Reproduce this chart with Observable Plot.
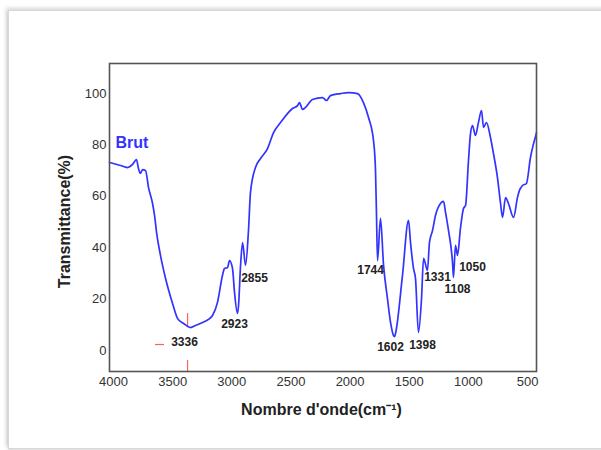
<!DOCTYPE html>
<html>
<head>
<meta charset="utf-8">
<script src="https://cdn.jsdelivr.net/npm/d3@7"></script>
<script src="https://cdn.jsdelivr.net/npm/@observablehq/plot@0.6"></script>
<style>
  html, body { margin: 0; padding: 0; background: #fff; }
  #wrap { position: relative; width: 601px; height: 450px; overflow: hidden; }
  #card { position: absolute; left: 8px; top: 10px; width: 620px; height: 437px;
          border: 1px solid #d8d8d8; box-shadow: -2px -2px 4px rgba(0,0,0,0.16), 0 2px 3px rgba(0,0,0,0.12); background: #fff; }
  #chart { position: absolute; left: 0; top: 0; }
</style>
</head>
<body>
<div id="wrap"><div id="card"></div><div id="chart"></div></div>
<script>
// FTIR spectrum "Brut" (wavenumber cm-1, transmittance %)
const wavenumber = [4034, 3941, 3882, 3839, 3806, 3789, 3772, 3755, 3729, 3704, 3670, 3653, 3636, 3603, 3560, 3501, 3459, 3408, 3349, 3307, 3248, 3197, 3163, 3121, 3079, 3062, 3036, 3019, 2994, 2977, 2952, 2943, 2926, 2909, 2884, 2859, 2842, 2800, 2757, 2698, 2647, 2588, 2487, 2444, 2428, 2402, 2377, 2318, 2233, 2199, 2166, 2081, 2013, 1937, 1887, 1844, 1802, 1785, 1777, 1768, 1743, 1717, 1684, 1658, 1633, 1624, 1616, 1557, 1506, 1489, 1464, 1447, 1422, 1396, 1379, 1371, 1346, 1329, 1303, 1278, 1236, 1210, 1193, 1168, 1134, 1126, 1109, 1092, 1067, 1041, 1024, 999, 982, 965, 940, 915, 889, 872, 847, 813, 788, 754, 728, 711, 686, 661, 618, 585, 568, 542, 509, 475, 449, 432, 424];
const transmittance = [73.2, 72.0, 71.2, 72.4, 74.3, 70.8, 68.9, 70.4, 70.0, 63.4, 57.2, 52.5, 45.9, 37.0, 28.0, 18.3, 12.5, 10.5, 8.9, 9.7, 10.9, 12.1, 13.6, 18.7, 29.2, 31.9, 32.3, 35.0, 31.9, 22.6, 14.4, 17.5, 33.1, 42.0, 33.1, 46.7, 61.5, 71.2, 74.7, 78.6, 84.8, 88.7, 94.2, 95.3, 96.5, 93.8, 94.6, 97.7, 98.4, 97.3, 99.2, 100.0, 100.4, 100.0, 96.5, 90.7, 81.7, 70.0, 53.3, 35.0, 51.4, 33.1, 20.2, 10.9, 5.8, 5.4, 6.6, 29.2, 50.6, 42.0, 31.9, 28.0, 7.0, 20.2, 35.8, 35.0, 31.1, 42.0, 46.7, 52.5, 57.2, 58.0, 53.7, 46.7, 34.2, 28.4, 40.9, 37.0, 47.5, 55.3, 56.4, 73.9, 84.4, 87.5, 83.7, 88.7, 93.4, 86.8, 88.7, 82.9, 76.7, 67.3, 57.2, 51.8, 59.5, 57.2, 51.8, 59.5, 62.3, 64.2, 65.0, 75.1, 80.5, 83.3, 84.8];

// peak annotations
const peakLabels = ["3336", "2923", "2855", "1744", "1602", "1398", "1331", "1108", "1050"];
const peakLabelX = [3400, 2977, 2808, 1827, 1658, 1388, 1261, 1092, 965];
const peakLabelY = [3.1, 10.1, 28.0, 31.1, 1.2, 1.9, 28.4, 23.7, 32.3];

// red marker of the 3336 band
const markerX = 3374;
const markerSegments = [[14.4, 8.9], [-3.9, -8.2]];
const dashFrom = 3645, dashTo = 3569, dashY = 2.3;

const xTicks = [4000, 3500, 3000, 2500, 2000, 1500, 1000, 500];
const yTicks = [0, 20, 40, 60, 80, 100];
const xDomain = [4034, 424];
const yDomain = [-8.2, 111.7];

const seriesName = "Brut";
const xLabel = "Nombre d'onde(cm\u207B\u00B9)";
const yLabel = "Transmittance(%)";

const spectrum = wavenumber.map((w, i) => ({w, t: transmittance[i]}));
const peaks = peakLabels.map((l, i) => ({l, x: peakLabelX[i], y: peakLabelY[i]}));
const vSegs = markerSegments.map(([a, b]) => ({x: markerX, y1: a, y2: b}));

const font = "'Liberation Sans', Arial, Helvetica, sans-serif";
const blue = "#3333ff";
const red = "#ff6060";

const plot = Plot.plot({
  width: 601,
  height: 450,
  marginLeft: 109,
  marginRight: 65,
  marginTop: 63,
  marginBottom: 79,
  style: {fontFamily: font, fontSize: "13px", background: "transparent", color: "#333"},
  x: {domain: xDomain},
  y: {domain: yDomain},
  marks: [
    Plot.axisX({ticks: xTicks, tickFormat: d => String(d), tickSize: 0, tickPadding: 5, label: null, fontSize: 13, fill: "#333"}),
    Plot.axisY({ticks: yTicks, tickFormat: d => String(d), tickSize: 0, tickPadding: 3, label: null, fontSize: 13, fill: "#333"}),
    Plot.ruleX(vSegs, {x: "x", y1: "y1", y2: "y2", stroke: red, strokeWidth: 1.2}),
    Plot.ruleY([dashY], {x1: dashFrom, x2: dashTo, stroke: red, strokeWidth: 1.2}),
    Plot.line(spectrum, {x: "w", y: "t", stroke: blue, strokeWidth: 1.7, curve: "monotone-x"}),
    Plot.text(peaks, {x: "x", y: "y", text: "l", fontSize: 12, fontWeight: "bold", fill: "#222", fontFamily: font}),
    Plot.text([seriesName], {text: d => d, frameAnchor: "top-left", dx: 6, dy: 79, textAnchor: "start", lineAnchor: "middle", fill: blue, fontSize: 16, fontWeight: "bold", fontFamily: font}),
    Plot.text([yLabel], {text: d => d, frameAnchor: "left", dx: -45, dy: 4, rotate: -90, textAnchor: "middle", lineAnchor: "middle", fill: "#222", fontSize: 16, fontWeight: "bold", fontFamily: font}),
    Plot.text([xLabel], {text: d => d, frameAnchor: "bottom", dx: -1.5, dy: 38, textAnchor: "middle", lineAnchor: "middle", fill: "#222", fontSize: 16, fontWeight: "bold", fontFamily: font}),
    Plot.frame({stroke: "#555", strokeWidth: 1.6})
  ]
});
document.getElementById("chart").appendChild(plot);
</script>
</body>
</html>
